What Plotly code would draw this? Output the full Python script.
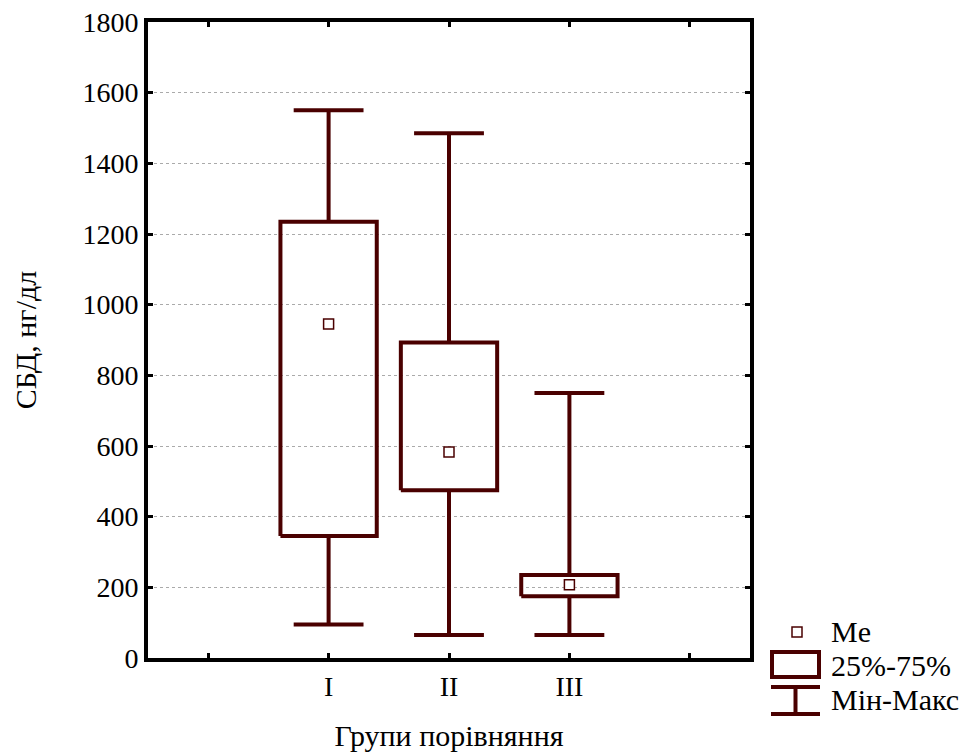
import plotly.graph_objects as go

groups = ["I", "II", "III"]
mins = [95, 65, 65]
q1 = [345, 475, 175]
medians = [945, 583, 207]
q3 = [1235, 893, 235]
maxs = [1550, 1485, 750]

x_tickvals = [1, 2, 3, 4, 5]
x_ticktext = ["", "I", "II", "III", ""]
y_ticks = [0, 200, 400, 600, 800, 1000, 1200, 1400, 1600, 1800]

COL = "#4a0000"
FONT = "Liberation Serif"
BOX_HW = 0.4
CAP_HW = 0.29

fig = go.Figure()
for i, g in enumerate(groups):
    xc = i + 2
    fig.add_trace(go.Scatter(
        x=[xc - BOX_HW, xc + BOX_HW, xc + BOX_HW, xc - BOX_HW, xc - BOX_HW],
        y=[q1[i], q1[i], q3[i], q3[i], q1[i]],
        mode="lines", line=dict(color=COL, width=4), showlegend=False, hoverinfo="skip"))
    fig.add_trace(go.Scatter(
        x=[xc, xc, None, xc - CAP_HW, xc + CAP_HW, None, xc, xc, None, xc - CAP_HW, xc + CAP_HW],
        y=[q3[i], maxs[i], None, maxs[i], maxs[i], None, q1[i], mins[i], None, mins[i], mins[i]],
        mode="lines", line=dict(color=COL, width=4), showlegend=False, hoverinfo="skip"))
    fig.add_trace(go.Scatter(
        x=[xc], y=[medians[i]], mode="markers",
        marker=dict(symbol="square", size=10, color="white", line=dict(color=COL, width=1.5)),
        showlegend=False, hoverinfo="skip"))

L, R, T, B = 148, 750, 22, 658
W, H = 967, 753

def px(x):
    return (x - L) / (R - L)

def py(y):
    return (B - y) / (B - T)

shapes = []
shapes.append(dict(type="rect", xref="paper", yref="paper",
                   x0=px(792), x1=px(802), y0=py(637), y1=py(627),
                   line=dict(color=COL, width=1.5), fillcolor="white"))
shapes.append(dict(type="rect", xref="paper", yref="paper",
                   x0=px(772), x1=px(819), y0=py(677), y1=py(652),
                   line=dict(color=COL, width=4), fillcolor="white"))
shapes.append(dict(type="line", xref="paper", yref="paper",
                   x0=px(771), x1=px(820), y0=py(687), y1=py(687),
                   line=dict(color=COL, width=4)))
shapes.append(dict(type="line", xref="paper", yref="paper",
                   x0=px(795.5), x1=px(795.5), y0=py(687), y1=py(714),
                   line=dict(color=COL, width=4)))
shapes.append(dict(type="line", xref="paper", yref="paper",
                   x0=px(771), x1=px(820), y0=py(714), y1=py(714),
                   line=dict(color=COL, width=4)))

annotations = []
for txt, yy in [("Me", 631), ("25%-75%", 665), ("Мін-Макс", 699)]:
    annotations.append(dict(text=txt, xref="paper", yref="paper", x=px(829), y=py(yy),
                            xanchor="left", yanchor="middle", showarrow=False,
                            font=dict(family=FONT, size=30, color="black")))

fig.update_layout(
    width=W, height=H,
    margin=dict(l=L, r=W - R, t=T, b=H - B, autoexpand=False),
    paper_bgcolor="white", plot_bgcolor="white",
    font=dict(family=FONT, size=28, color="black"),
    shapes=shapes, annotations=annotations,
    xaxis=dict(range=[0.5, 5.5], tickvals=x_tickvals, ticktext=x_ticktext,
               showline=True, mirror="ticks", linecolor="black", linewidth=4,
               ticks="inside", ticklen=5, tickwidth=3, tickcolor="black",
               showgrid=False, zeroline=False, automargin=False,
               title=dict(text="Групи порівняння", font=dict(family=FONT, size=30), standoff=25),
               tickfont=dict(family=FONT, size=28)),
    yaxis=dict(range=[0, 1800], tickvals=y_ticks,
               showline=True, mirror="ticks", linecolor="black", linewidth=4,
               ticks="inside", ticklen=5, tickwidth=3, tickcolor="black",
               showgrid=True, gridcolor="#aaaaaa", griddash="dot", gridwidth=1,
               zeroline=False, automargin=False,
               title=dict(text="СБД, нг/дл", font=dict(family=FONT, size=30), standoff=38),
               tickfont=dict(family=FONT, size=28)),
)

fig.write_html("out.html", config={"displayModeBar": False},
               post_script="document.body.style.margin='0';document.body.style.overflow='hidden';")
